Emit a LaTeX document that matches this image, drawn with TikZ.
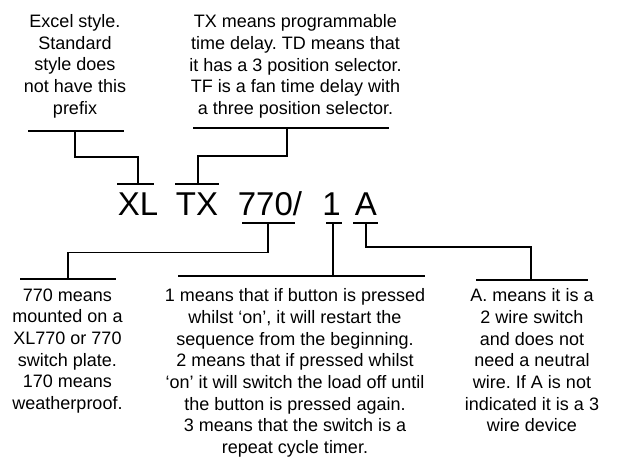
\documentclass[tikz,border=0pt]{standalone}
\usepackage{fontspec}
\setmainfont{Liberation Sans}
\frenchspacing
\begin{document}
\begin{tikzpicture}[x=1pt,y=-1pt,line width=1.2pt,
		note/.style={align=center,inner sep=0pt,anchor=north,font=\fontsize{18}{21.7}\selectfont},
		code/.style={inner sep=0pt,anchor=base,font=\fontsize{33}{36}\selectfont}]
			\useasboundingbox (0,0) rectangle (618,459);
			% notes above
			\node[note] (excel) at (75,13.8) {Excel style.\\Standard\\style does\\not have this\\prefix};
			\node[note] (txnote) at (295.5,14.1) {TX means programmable\\time delay. TD means that\\it has a 3 position selector.\\TF is a fan time delay with\\a three position selector.};
			% the code
			\node[code] (xl) at (138,215) {XL};
			\node[code] (tx) at (197,215) {TX};
			\node[code] (num) at (270,215) {770/};
			\node[code] (one) at (331.5,215) {1};
			\node[code] (alet) at (366,215) {A};
			% notes below
			\node[note] (numnote) at (67.5,288) {770 means\\mounted on a\\XL770 or 770\\switch plate.\\170 means\\weatherproof.};
			\node[note] (onenote) at (295,288) {1 means that if button is pressed\\whilst `on', it will restart the\\sequence from the beginning.\\2 means that if pressed whilst\\`on' it will switch the load off until\\the button is pressed again.\\3 means that the switch is a\\repeat cycle timer.};
			\node[note] (anote) at (532,288) {A. means it is a\\2 wire switch\\and does not\\need a neutral\\wire. If A is not\\indicated it is a 3\\wire device};
			% bars
			\foreach \a/\b/\y in {28/124/131,193/389/128,117/154/184,175/219/184,242/295/223,326/342/223,353/378/223,20/116/279,178/425/276,476/588/280}
				\draw (\a,\y)--(\b,\y);
			\coordinate (excel-t) at (75,131);
			\coordinate (txnote-t) at (287,128);
			\coordinate (xl-t) at (138,184);
			\coordinate (tx-t) at (198,184);
			\coordinate (num-t) at (268,223);
			\coordinate (one-t) at (333,223);
			\coordinate (alet-t) at (366,223);
			\coordinate (numnote-t) at (68,279);
			\coordinate (onenote-t) at (333,276);
			\coordinate (anote-t) at (531,280);
			% connectors
			\draw (excel-t)--++(0,26) -| (xl-t);
			\draw (txnote-t)--++(0,28) -| (tx-t);
			\draw (num-t)--++(0,29.7) -| (numnote-t);
			\draw (one-t)--(onenote-t);
			\draw (alet-t)--++(0,24) -| (anote-t);
		\end{tikzpicture}
\end{document}
